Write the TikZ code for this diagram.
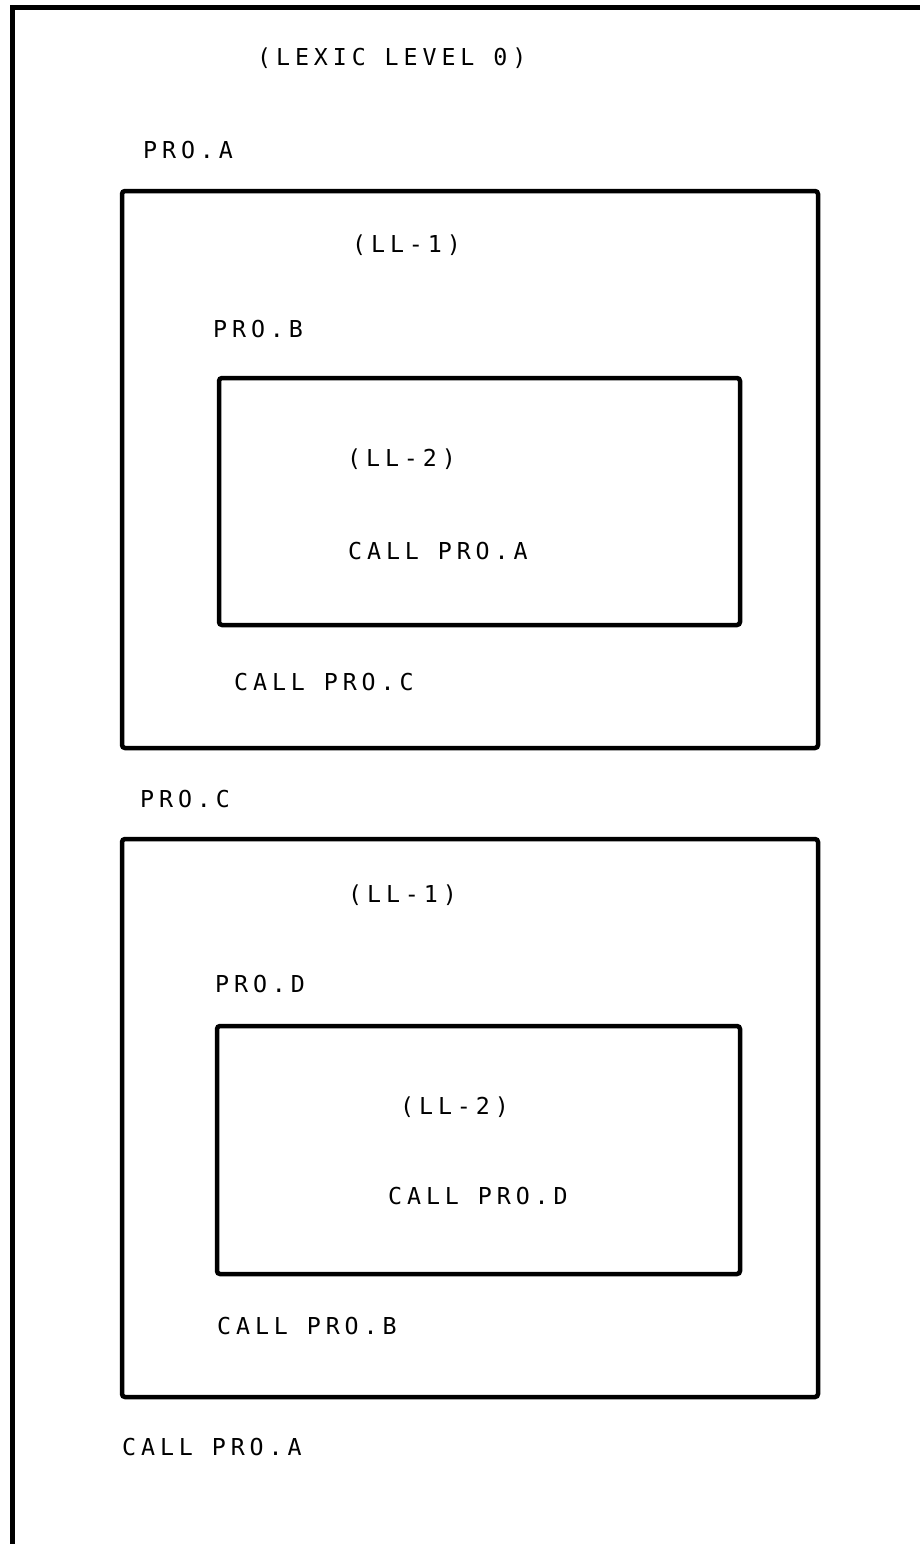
\documentclass[tikz,border=0pt]{standalone}
\usepackage{fontspec}
\newfontfamily\plotfont[LetterSpace=21]{DejaVu Sans Mono}
\begin{document}
\begin{tikzpicture}[x=1pt,y=-1pt,
  box/.style={line width=4.5pt, rounded corners=3pt},
  frame/.style={line width=5pt},
  lbl/.style={anchor=base west, inner sep=0pt, font=\plotfont\fontsize{23.3pt}{28pt}\selectfont}]
\useasboundingbox (0,0) rectangle (920,1544);
% outer frame (only top and left sides visible)
\draw[frame] (12,1544) -- (12,8) -- (920,8);
% boxes
\draw[box] (122,191) rectangle (818,748);
\draw[box] (219,378) rectangle (740,625);
\draw[box] (122,839) rectangle (818,1397);
\draw[box] (217,1026) rectangle (740,1274);
% labels
\node[lbl] (lex)  at (257,65.5)  {(LEXIC LEVEL 0)};
\node[lbl] (pa)   at (143,158.5) {PRO.A};
\node[lbl] (ll1a) at (352,252.5) {(LL-1)};
\node[lbl] (pb)   at (213,337.5) {PRO.B};
\node[lbl] (ll2a) at (347,466.5) {(LL-2)};
\node[lbl] (cpa1) at (348,559.5) {CALL PRO.A};
\node[lbl] (cpc)  at (234,690.5) {CALL PRO.C};
\node[lbl] (pc)   at (140,807.5) {PRO.C};
\node[lbl] (ll1b) at (348,902.5) {(LL-1)};
\node[lbl] (pd)   at (215,992.5) {PRO.D};
\node[lbl] (ll2b) at (400,1114.5) {(LL-2)};
\node[lbl] (cpd)  at (388,1204.5) {CALL PRO.D};
\node[lbl] (cpb)  at (217,1334.5) {CALL PRO.B};
\node[lbl] (cpa2) at (122,1455.5) {CALL PRO.A};
\end{tikzpicture}
\end{document}
